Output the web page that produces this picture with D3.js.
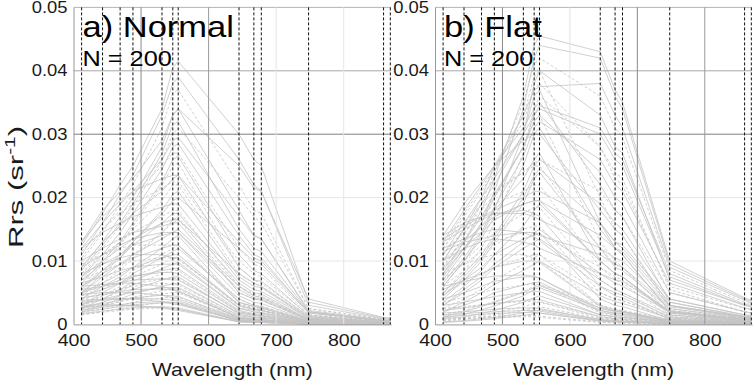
<!DOCTYPE html>
<html>
<head>
<meta charset="utf-8">
<script src="https://cdn.jsdelivr.net/npm/d3@7"></script>
<style>
  body { margin: 0; background: #fff; }
  svg { display: block; font-family: "Liberation Sans", Arial, sans-serif; }
</style>
</head>
<body>
<svg width="754" height="385"></svg>
<script>
// полосы (нм), где измерен Rrs
const bands = [412, 443, 469, 488, 531, 547, 555, 645, 667, 678, 748, 859, 869];
const xTicks = [400, 500, 600, 700, 800];
const yTicks = [0, 0.01, 0.02, 0.03, 0.04, 0.05];
const panelTitles = ["a) Normal", "b) Flat"];
const panelCounts = ["N = 200", "N = 200"];
const rrsUnit = 0.001; // значения ниже в 1e-3 sr^-1

// a) Normal
const normalRrs = [
  [12.5,17.5,22,25,34,40.5,41.5,30,26,25,3.5,1.0,0.9],
  [11,16,20.5,23.5,33,38,39,26,22,21,3.0,0.9,0.8],
  [10,14.5,19,22,31,36.5,37,22,18,17.5,2.5,0.8,0.7],
  [13,18,21,23,29,33,34,25,21.5,21,4.0,1.1,1.0],
  [9,13,17,20,28,33,34,18,14,13.5,2.2,0.7,0.6],
  [8,12,15.5,18.5,26,30,31,20,17,16,2.5,0.8,0.7],
  [12,16,19,21,26,29,29.5,17,14,13.5,2.0,0.6,0.6],
  [7.5,11,14.5,17.5,24.5,28,28.5,14,11,10.5,1.8,0.6,0.5],
  [10.5,15,18,20.5,25,27,27,12,9.5,9,1.5,0.5,0.5],
  [6.5,10,13,16,22.5,26,26.5,11,8.5,8,1.4,0.4,0.4],
  [9,13,15.5,17.5,21,23,23.5,9,7,6.8,1.2,0.4,0.3],
  [7,10.5,13,15,19.5,22,22,8,6.5,6,1.0,0.3,0.3],
  [12,14.5,16,17,18.5,19,19,7,5.5,5.2,1.0,0.3,0.3],
  [5.5,8.5,11,13,18,20.5,21,7.5,6,5.8,1.0,0.3,0.3],
  [8,11,13,14.5,17,18,18,6,4.8,4.5,0.8,0.3,0.2],
  [6,8.5,10.5,12.5,16,17.5,17.5,6.5,5,4.8,0.8,0.2,0.2],
  [10,12,13.5,14.5,15.5,16,16,5,4,3.8,0.7,0.2,0.2],
  [4.5,7,9,11,14.5,16.5,17,5,4,3.8,0.7,0.2,0.2],
  [7,9.5,11,12.5,14,14.5,14.5,4.5,3.5,3.3,0.6,0.2,0.2],
  [5,7.5,9.5,11,13.5,14.5,15,6,4.5,4.3,0.8,0.2,0.2],
  [9.5,11,12,12.5,12.5,12.5,12.5,4,3,2.9,0.6,0.2,0.2],
  [4,6,7.5,9,12,13.5,14,3.5,2.8,2.6,0.5,0.2,0.1],
  [6,8,9.5,10.5,12,12.5,12.5,3.5,2.8,2.6,0.5,0.2,0.1],
  [3.5,5.5,7,8.5,11,12,12.5,3.5,2.5,2.4,0.5,0.1,0.1],
  [8,9.5,10.5,11,11,10.5,10.5,3,2.3,2.2,0.4,0.1,0.1],
  [5,6.5,8,9,10.5,11,11,3,2.4,2.2,0.4,0.1,0.1],
  [3,4.5,6,7.5,9.5,10.5,10.5,2.8,2.2,2,0.4,0.1,0.1],
  [6.5,7.5,8.5,9,9.5,9.5,9.5,2.5,2,1.8,0.4,0.1,0.1],
  [4.5,5.5,6.5,7.5,8.5,8.8,8.8,2.2,1.7,1.6,0.3,0.1,0.1],
  [3,4,5.2,6.2,8,8.5,8.5,2,1.5,1.4,0.3,0.1,0.1],
  [5.5,6,6.5,7,7.2,7,7,1.8,1.4,1.3,0.3,0.1,0.1],
  [2.5,3.5,4.5,5.5,7,7.5,7.5,1.6,1.2,1.1,0.2,0.1,0.1],
  [4,4.8,5.5,6,6.5,6.3,6.2,1.4,1.1,1,0.2,0.1,0.1],
  [6,6.3,6.5,6.5,6,5.5,5.3,1,0.8,0.7,0.2,0.1,0.1],
  [3.2,4,4.6,5.1,5.8,5.8,5.8,1.2,0.9,0.8,0.2,0.1,0.1],
  [2,2.8,3.6,4.3,5.3,5.6,5.6,1,0.8,0.7,0.2,0.1,0.1],
  [4.8,5,5.1,5,4.6,4.2,4,0.8,0.6,0.5,0.1,0.05,0.05],
  [2.8,3.3,3.8,4.2,4.6,4.5,4.4,0.9,0.7,0.6,0.1,0.05,0.05],
  [1.8,2.4,3,3.5,4.2,4.3,4.3,0.8,0.6,0.55,0.1,0.05,0.05],
  [3.8,4,4.1,4,3.6,3.2,3.1,0.6,0.45,0.4,0.1,0.05,0.05],
  [2.2,2.7,3.1,3.4,3.6,3.5,3.4,0.6,0.45,0.4,0.1,0.05,0.05],
  [1.5,2,2.5,2.9,3.4,3.5,3.5,0.6,0.5,0.45,0.1,0.05,0.05],
  [3,3.1,3.1,3,2.6,2.3,2.2,0.4,0.3,0.3,0.05,0.03,0.03],
  [1.7,2.1,2.4,2.6,2.8,2.7,2.6,0.45,0.35,0.3,0.05,0.03,0.03],
  [11.5,15,17.5,19,21.5,22.5,22.5,10,8,7.5,1.5,0.5,0.4],
  [8.5,12.5,16,19,27,31.5,32,15,12,11.5,2,0.6,0.6],
  [13,17,19.5,21,23,23.5,23.5,13,10.5,10,2,0.6,0.6],
  [6,9.5,12.5,15.5,22,25,25.5,9,7,6.5,1.3,0.4,0.4],
  [5,8,10.5,13,17.5,19.5,20,12,10,9.5,1.8,0.5,0.5],
  [7.5,10,12,13.5,16,16.5,16.5,8,6.5,6,1.2,0.4,0.3],
  [4,6.5,8.5,10.5,14.5,16,16.5,6,4.5,4.2,0.8,0.2,0.2],
  [9,11,12.5,13.5,14.5,14.5,14.5,5.5,4.2,4,0.8,0.3,0.2],
  [3,5,6.5,8,10.5,11.5,12,4,3,2.8,0.5,0.2,0.1],
  [7,8.5,9.5,10,10.5,10.5,10.2,3.2,2.5,2.3,0.5,0.1,0.1],
  [2.5,4,5.5,6.8,8.8,9.5,9.8,2.6,2,1.8,0.4,0.1,0.1],
  [5,6,7,7.6,8.2,8.2,8,2,1.6,1.4,0.3,0.1,0.1],
  [3.5,4.5,5.5,6.3,7.2,7.3,7.2,1.8,1.4,1.2,0.3,0.1,0.1],
  [2.2,3,4,4.8,6,6.4,6.5,1.4,1.1,1,0.2,0.1,0.1],
  [4.2,4.7,5.2,5.5,5.6,5.4,5.2,1.1,0.8,0.7,0.2,0.05,0.05],
  [2.5,3,3.6,4,4.8,5,5,1,0.8,0.7,0.1,0.05,0.05],
  [3.5,3.8,4,4.1,4,3.8,3.7,0.7,0.5,0.45,0.1,0.05,0.05],
  [2,2.4,2.8,3.1,3.4,3.4,3.3,0.6,0.45,0.4,0.1,0.05,0.05],
  [1.6,1.9,2.2,2.4,2.6,2.5,2.4,0.4,0.3,0.3,0.05,0.03,0.03],
  [2.7,2.9,3,2.9,2.7,2.5,2.4,0.45,0.35,0.3,0.05,0.03,0.03]
];

// b) Flat
const flatRrs = [
  [8,13,18,23,36,44,45.5,43,37,35,10,4.2,3.8],
  [7,11.5,16,21,34,42,44,42,36,34,9.5,4,3.6],
  [9,14,19,24,35,41,42,36,31,29.5,8.5,3.5,3.2],
  [6,10,14,18,30,38,40,33,28,27,7,3,2.8],
  [10,15,20,25,33,37,37.5,38,33,31,9,3.8,3.4],
  [5,8.5,12,16,27,34,36,28,23,22,6,2.5,2.3],
  [11,16,20,23,30,33,34,30,26,25,7.5,3,2.8],
  [7.5,12,16,20,28,32,33,24,20,19,5,2,1.8],
  [12,17,21,24,33,39,40,20,15,14,2.5,0.9,0.8],
  [10,15,19,22,30,36,37,16,12,11,2,0.7,0.6],
  [13,18,22,25,31,34,35,22,18,17,3.5,1.2,1.1],
  [9,13.5,17,20,28,32,33,13,10,9,1.8,0.6,0.5],
  [14,19,22.5,25,29,30,30,18,15,14,3,1,0.9],
  [6,10,13.5,17,25,30,31,15,12,11,2.2,0.8,0.7],
  [12,16,19,21,24,25,25,12,9.5,9,1.8,0.6,0.5],
  [8,12,15.5,18,23,26,27,10,8,7.5,1.5,0.5,0.4],
  [5,8,11,14,21,25,26,19,16,15,4,1.5,1.3],
  [11,14.5,17,19,21,22,22,9,7,6.5,1.2,0.4,0.4],
  [4,7,10,13,19,23,24,12,9,8.5,2.5,1,0.9],
  [9,12,14.5,16.5,19,19.5,19.5,14,12,11.5,3,1.2,1.1],
  [7,10,12.5,14.5,17.5,18.5,18.5,7,5.5,5,1,0.3,0.3],
  [13,15,16.5,17.5,18,17.5,17,6,4.5,4.2,0.8,0.3,0.3],
  [3.5,6,8.5,11,15.5,18,19,10,8,7.5,2,0.8,0.7],
  [6,8.5,10.5,12.5,15,15.5,15.5,5,4,3.8,0.8,0.3,0.3],
  [10,12,13,13.5,13,12.5,12,8,7,6.8,2,0.8,0.7],
  [4.5,7,9,11,13.5,14,14.5,4,3,2.8,0.6,0.2,0.2],
  [8,9.5,10.5,11,11,10.5,10,3,2.3,2.1,0.5,0.2,0.2],
  [3,5,7,9,12,13,13.5,7,5.5,5,1.5,0.6,0.5],
  [5.5,7,8,9,10,10,9.8,2.8,2.1,2,0.4,0.1,0.1],
  [2.5,4,5.5,7,9.5,10.5,11,3,2.3,2.1,0.5,0.2,0.2],
  [4,5,6,6.8,7.5,7.5,7.3,2.5,2,1.9,0.5,0.2,0.2],
  [2,3,4,5,6.2,6.6,6.7,2,1.5,1.4,0.4,0.2,0.2],
  [1.5,2.2,3,3.6,5.2,6,6.3,3,2.4,2.2,0.8,0.4,0.4],
  [3,3.5,4,4.4,5,5.2,5.2,1.5,1.2,1.1,0.3,0.1,0.1],
  [1,1.6,2.3,2.9,4.5,5.5,5.8,2.2,1.8,1.7,0.6,0.3,0.3],
  [2.5,2.8,3.1,3.3,3.6,3.6,3.5,1,0.8,0.7,0.2,0.1,0.1],
  [0.8,1.2,1.7,2.2,3.5,4.2,4.5,1.5,1.2,1.1,0.4,0.2,0.2],
  [1.8,2,2.2,2.4,2.6,2.6,2.5,0.7,0.5,0.5,0.1,0.05,0.05],
  [0.5,0.8,1.1,1.4,2.2,2.6,2.8,0.9,0.7,0.6,0.2,0.1,0.1],
  [1.2,1.4,1.6,1.7,1.9,1.9,1.8,0.5,0.4,0.35,0.1,0.05,0.05],
  [0.3,0.5,0.7,0.9,1.4,1.7,1.8,0.6,0.5,0.45,0.2,0.1,0.1],
  [0.8,0.9,1,1.1,1.2,1.2,1.1,0.3,0.25,0.2,0.05,0.03,0.03],
  [13.5,15.5,17,18,20,21,21,16,13,12.5,4,1.5,1.4],
  [11.5,13,13.5,14,14.5,14.5,14,11,9.5,9,2.8,1.1,1],
  [12.5,17.5,21.5,24.5,32,37,38,28,24,23,5.5,2,1.8],
  [8.5,13,17,20.5,28,33,34.5,31,27,26,8,3.2,3],
  [6.5,10.5,14.5,18.5,26.5,31,32,26,22,21,6.5,2.6,2.4],
  [11,15,18,20.5,24,25.5,26,21,18,17,5,2,1.8],
  [4.5,7.5,10.5,13.5,20,23.5,24.5,16,13,12,3.5,1.3,1.2],
  [10,13,15.5,17,19,19.5,19.5,10,8,7.5,1.8,0.6,0.5],
  [7,9.5,11.5,13,14.5,14.5,14.3,9,7.5,7,2.2,0.9,0.8],
  [3,5.5,7.5,9.5,13,14.5,15,8,6.5,6,2,0.8,0.7],
  [12,13.5,14.5,15,14.5,13.8,13.2,6,5,4.6,1.2,0.5,0.4],
  [5,6.5,8,9,10.5,11,11,5,4,3.7,1.2,0.5,0.4],
  [2,3.5,5,6.3,8.5,9.5,10,4.5,3.6,3.3,1,0.4,0.4],
  [6,6.8,7.3,7.6,7.8,7.6,7.3,2.2,1.7,1.6,0.4,0.1,0.1],
  [3.5,4.3,5,5.5,6.2,6.4,6.3,1.8,1.4,1.3,0.3,0.1,0.1],
  [1.2,2,2.8,3.5,5,5.8,6.1,2.6,2.1,2,0.7,0.3,0.3],
  [2.2,2.6,3,3.3,3.8,3.9,3.9,1.2,0.9,0.8,0.2,0.1,0.1],
  [0.6,1,1.4,1.8,2.8,3.3,3.6,1.2,1,0.9,0.3,0.15,0.15],
  [1.5,1.7,1.9,2,2.2,2.2,2.1,0.6,0.45,0.4,0.1,0.05,0.05],
  [0.4,0.6,0.9,1.1,1.8,2.1,2.3,0.8,0.6,0.55,0.2,0.1,0.1],
  [1,1.1,1.2,1.3,1.4,1.4,1.3,0.4,0.3,0.25,0.05,0.03,0.03],
  [14,16,17,17.5,17.5,17,16.5,12,10.5,10,3,1.2,1.1]
];

const svg = d3.select("svg");
const fontScaleX = 1.15; // картинка растянута по горизонтали

const panels = [
  {data: normalRrs, left: 73.5, right: 391, yLabel: true,
   vGrid: ["#8a8a8a", "#9a9a9a", "#e6e6e6", "#e6e6e6"]},
  {data: flatRrs, left: 435, right: 752, yLabel: false,
   vGrid: ["#8a8a8a", "#e2e2e2", "#8a8a8a", "#9a9a9a"]}
];
const hGrid = ["#ffffff", "#e6e6e6", "#e6e6e6", "#7f7f7f", "#a8a8a8", "#b4b4b4"];
const plotTop = 7.4, plotBottom = 324.4;

panels.forEach((p, k) => {
  const x = d3.scaleLinear().domain([400, 870]).range([p.left, p.right]);
  const y = d3.scaleLinear().domain([0, 0.05]).range([plotBottom, plotTop]);
  const g = svg.append("g");

  // спектры
  const line = d3.line()
    .x((d, i) => x(bands[i]))
    .y(d => y(d * rrsUnit));
  g.append("g")
    .selectAll("path")
    .data(p.data)
    .enter()
    .append("path")
    .attr("d", line)
    .attr("fill", "none")
    .attr("stroke", "#c4c4c4")
    .attr("stroke-width", 0.8)
    .attr("stroke-dasharray", (d, i) => i % 3 === 2 ? "3,2" : null);

  // сетка
  g.append("g")
    .selectAll("line")
    .data(yTicks.slice(1))
    .enter()
    .append("line")
    .attr("x1", p.left).attr("x2", p.right)
    .attr("y1", d => y(d)).attr("y2", d => y(d))
    .attr("stroke", (d, i) => hGrid[i + 1])
    .attr("stroke-width", 1);
  g.append("g")
    .selectAll("line")
    .data(xTicks.slice(1))
    .enter()
    .append("line")
    .attr("x1", d => x(d)).attr("x2", d => x(d))
    .attr("y1", plotTop).attr("y2", plotBottom)
    .attr("stroke", (d, i) => p.vGrid[i])
    .attr("stroke-width", 1);

  // пунктир по полосам
  g.append("g")
    .selectAll("line")
    .data(bands)
    .enter()
    .append("line")
    .attr("x1", d => x(d)).attr("x2", d => x(d))
    .attr("y1", plotTop).attr("y2", plotBottom)
    .attr("stroke", "#111")
    .attr("stroke-width", 1)
    .attr("stroke-dasharray", "3,2");

  // оси
  const axX = d3.axisBottom(x).tickValues(xTicks).tickSize(0).tickPadding(10);
  const axY = d3.axisLeft(y).tickValues(yTicks).tickSize(0).tickPadding(6)
    .tickFormat(d => d === 0 ? "0" : d.toFixed(2));
  g.append("g")
    .attr("transform", `translate(0, ${plotBottom})`)
    .call(axX)
    .call(s => s.select(".domain").attr("stroke", "#999"))
    .selectAll("text")
    .attr("font-size", 17)
    .attr("font-family", "Liberation Sans, Arial, sans-serif")
    .attr("fill", "#1a1a1a");
  g.append("g")
    .attr("transform", `translate(${p.left}, 0)`)
    .call(axY)
    .call(s => s.select(".domain").attr("stroke", "#999"))
    .selectAll("text")
    .attr("font-size", 16)
    .attr("font-family", "Liberation Sans, Arial, sans-serif")
    .attr("fill", "#1a1a1a");

  g.append("text")
    .attr("x", (p.left + p.right) / 2)
    .attr("y", 376)
    .attr("text-anchor", "middle")
    .attr("font-size", 18.5)
    .attr("fill", "#1a1a1a")
    .text("Wavelength (nm)");

  g.append("text")
    .attr("x", p.left + 9)
    .attr("y", 37)
    .attr("font-size", 30)
    .attr("fill", "#000")
    .text(panelTitles[k]);
  g.append("text")
    .attr("x", p.left + 9)
    .attr("y", 65.5)
    .attr("font-size", 22)
    .attr("fill", "#000")
    .text(panelCounts[k]);

  if (p.yLabel) {
    const t = g.append("text")
      .attr("class", "ylabel")
      .attr("transform", "translate(23, 187) rotate(-90)")
      .attr("text-anchor", "middle")
      .attr("font-size", 21)
      .attr("fill", "#1a1a1a");
    t.append("tspan").text("Rrs (sr");
    t.append("tspan").attr("font-size", 14).attr("dy", -8).text("-1");
    t.append("tspan").attr("dy", 8).text(")");
  }
});

// горизонтальное растяжение подписей, как на исходной картинке
svg.selectAll("text").each(function() {
  const w = this.getComputedTextLength();
  const len = this.classList.contains("ylabel") ? 122 : w * fontScaleX;
  d3.select(this).attr("textLength", len).attr("lengthAdjust", "spacingAndGlyphs");
});
</script>
</body>
</html>
